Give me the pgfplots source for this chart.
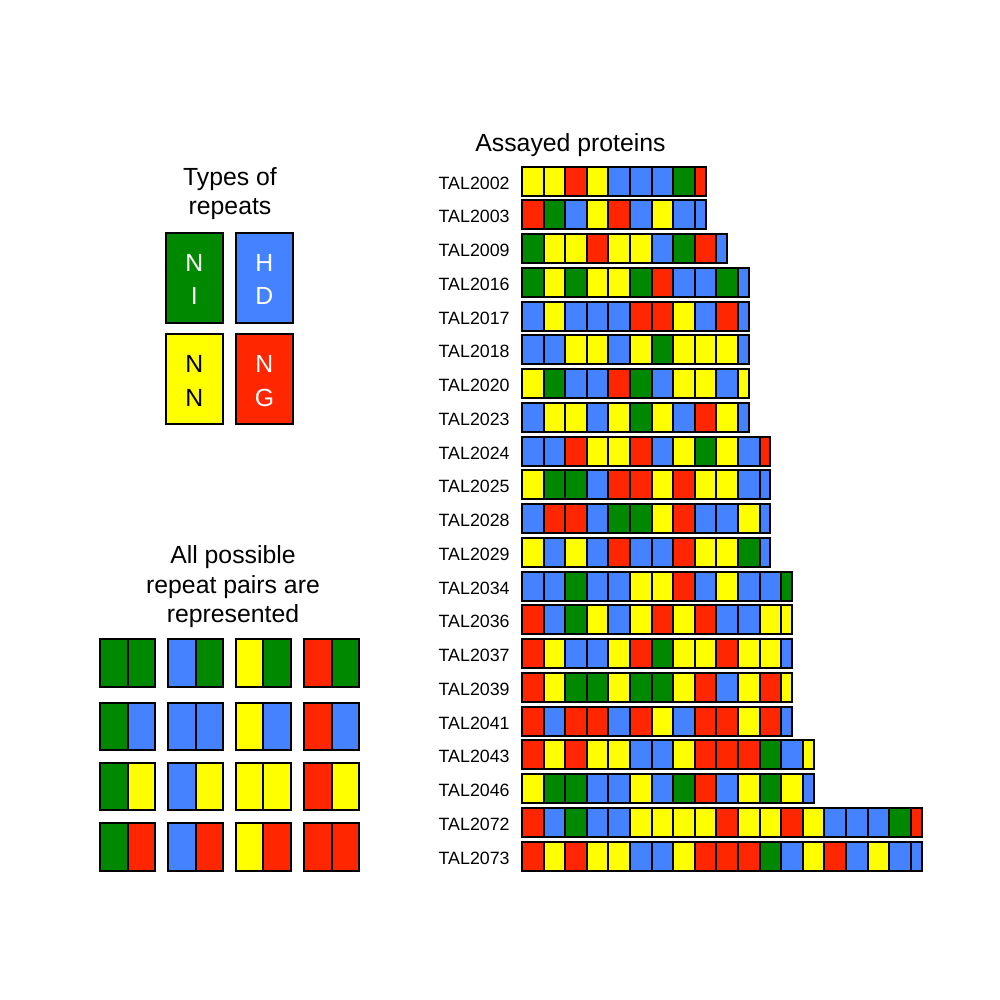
\documentclass[border=0pt]{standalone}
\usepackage{pgfplots}
\pgfplotsset{compat=1.18}
\usepackage{pgfplotstable}
\usepackage{fontspec}
\setmainfont{Liberation Sans}
\definecolor{cG}{RGB}{0,136,0}
\definecolor{cB}{RGB}{68,130,255}
\definecolor{cY}{RGB}{255,255,0}
\definecolor{cR}{RGB}{255,38,0}
% one repeat = 21.6 px = 10.8 pt wide, 29 px = 14.5 pt high
\pgfdeclareplotmark{tal}{\pgfpathrectangle{\pgfpoint{-5.4pt*\bw}{-7.25pt}}{\pgfpoint{10.8pt*\bw}{14.5pt}}\pgfusepathqfillstroke}
% legend boxes: width and height given in px (1 px = 0.5 pt)
\pgfdeclareplotmark{box}{\pgfpathrectangle{\pgfpoint{-0.25pt*\bw}{-0.25pt*\bh}}{\pgfpoint{0.5pt*\bw}{0.5pt*\bh}}\pgfusepathqfillstroke}
\pgfplotsset{
  blocks/.style={scatter, only marks, point meta=explicit symbolic,
    scatter/classes={
      0={fill=cG,draw=black,line width=1pt},
      1={fill=cB,draw=black,line width=1pt},
      2={fill=cY,draw=black,line width=1pt},
      3={fill=cR,draw=black,line width=1pt}}},
  grid/.style={blocks, mark=tal, visualization depends on={\thisrow{w}\as\bw}},
  boxes/.style={blocks, mark=box, visualization depends on={\thisrow{w}\as\bw},
    visualization depends on={\thisrow{h}\as\bh}},
}
\newcommand\TX{522+21.6*\coordindex+10.8*\thisrow{w}}
% codes: 0 = NI (green), 1 = HD (blue), 2 = NN (yellow), 3 = NG (red)
\pgfplotstableread{
x y w h c
194.4 277.7 56.5 90 0
264.4 277.7 56.5 90 1
194.4 379 56.5 90 2
264.4 379 56.5 90 3
}\types
\pgfplotstableread{
x y w h c
113.75 663 27.5 47.3 0
141.25 663 27.5 47.3 0
182.05 663 27.5 47.3 1
209.55 663 27.5 47.3 0
249.45 663 27.5 47.3 2
276.95 663 27.5 47.3 0
318.05 663 27.5 47.3 3
345.55 663 27.5 47.3 0
113.75 726.3 27.5 47.3 0
141.25 726.3 27.5 47.3 1
182.05 726.3 27.5 47.3 1
209.55 726.3 27.5 47.3 1
249.45 726.3 27.5 47.3 2
276.95 726.3 27.5 47.3 1
318.05 726.3 27.5 47.3 3
345.55 726.3 27.5 47.3 1
113.75 786.3 27.5 47.3 0
141.25 786.3 27.5 47.3 2
182.05 786.3 27.5 47.3 1
209.55 786.3 27.5 47.3 2
249.45 786.3 27.5 47.3 2
276.95 786.3 27.5 47.3 2
318.05 786.3 27.5 47.3 3
345.55 786.3 27.5 47.3 2
113.75 847 27.5 47.3 0
141.25 847 27.5 47.3 3
182.05 847 27.5 47.3 1
209.55 847 27.5 47.3 3
249.45 847 27.5 47.3 2
276.95 847 27.5 47.3 3
318.05 847 27.5 47.3 3
345.55 847 27.5 47.3 3
}\pairs
\newcommand\TitFont{\fontsize{12.4}{14.8}\selectfont}
\newcommand\LabFont{\fontsize{8.9}{10.6}\selectfont}
\begin{document}
\begin{tikzpicture}
\begin{axis}[x=0.5pt, y=0.5pt, xmin=0, xmax=1000, ymin=0, ymax=1000, y dir=reverse,
  hide axis, clip=false, anchor=origin]
\addplot[draw=none, mark=none] coordinates {(0,0) (1000,1000)};
% assayed proteins
\addplot[grid] table[x expr=\TX, y expr=181, meta=c, row sep=\\]{c w\\2 1\\2 1\\3 1\\2 1\\1 1\\1 1\\1 1\\0 1\\3 0.5\\};
\addplot[grid] table[x expr=\TX, y expr=214.75, meta=c, row sep=\\]{c w\\3 1\\0 1\\1 1\\2 1\\3 1\\1 1\\2 1\\1 1\\1 0.5\\};
\addplot[grid] table[x expr=\TX, y expr=248.5, meta=c, row sep=\\]{c w\\0 1\\2 1\\2 1\\3 1\\2 1\\2 1\\1 1\\0 1\\3 1\\1 0.5\\};
\addplot[grid] table[x expr=\TX, y expr=282.25, meta=c, row sep=\\]{c w\\0 1\\2 1\\0 1\\2 1\\2 1\\0 1\\3 1\\1 1\\1 1\\0 1\\1 0.5\\};
\addplot[grid] table[x expr=\TX, y expr=316, meta=c, row sep=\\]{c w\\1 1\\2 1\\1 1\\1 1\\1 1\\3 1\\3 1\\2 1\\1 1\\3 1\\1 0.5\\};
\addplot[grid] table[x expr=\TX, y expr=349.75, meta=c, row sep=\\]{c w\\1 1\\1 1\\2 1\\2 1\\1 1\\2 1\\0 1\\2 1\\2 1\\2 1\\1 0.5\\};
\addplot[grid] table[x expr=\TX, y expr=383.5, meta=c, row sep=\\]{c w\\2 1\\0 1\\1 1\\1 1\\3 1\\0 1\\1 1\\2 1\\2 1\\1 1\\2 0.5\\};
\addplot[grid] table[x expr=\TX, y expr=417.25, meta=c, row sep=\\]{c w\\1 1\\2 1\\2 1\\1 1\\2 1\\0 1\\2 1\\1 1\\3 1\\2 1\\1 0.5\\};
\addplot[grid] table[x expr=\TX, y expr=451, meta=c, row sep=\\]{c w\\1 1\\1 1\\3 1\\2 1\\2 1\\3 1\\1 1\\2 1\\0 1\\2 1\\1 1\\3 0.5\\};
\addplot[grid] table[x expr=\TX, y expr=484.75, meta=c, row sep=\\]{c w\\2 1\\0 1\\0 1\\1 1\\3 1\\3 1\\2 1\\3 1\\2 1\\2 1\\1 1\\1 0.5\\};
\addplot[grid] table[x expr=\TX, y expr=518.5, meta=c, row sep=\\]{c w\\1 1\\3 1\\3 1\\1 1\\0 1\\0 1\\2 1\\3 1\\1 1\\1 1\\2 1\\1 0.5\\};
\addplot[grid] table[x expr=\TX, y expr=552.25, meta=c, row sep=\\]{c w\\2 1\\1 1\\2 1\\1 1\\3 1\\1 1\\1 1\\3 1\\2 1\\2 1\\0 1\\1 0.5\\};
\addplot[grid] table[x expr=\TX, y expr=586, meta=c, row sep=\\]{c w\\1 1\\1 1\\0 1\\1 1\\1 1\\2 1\\2 1\\3 1\\1 1\\2 1\\1 1\\1 1\\0 0.5\\};
\addplot[grid] table[x expr=\TX, y expr=619.75, meta=c, row sep=\\]{c w\\3 1\\1 1\\0 1\\2 1\\1 1\\2 1\\3 1\\2 1\\3 1\\1 1\\1 1\\2 1\\2 0.5\\};
\addplot[grid] table[x expr=\TX, y expr=653.5, meta=c, row sep=\\]{c w\\3 1\\2 1\\1 1\\1 1\\2 1\\3 1\\0 1\\2 1\\2 1\\3 1\\2 1\\2 1\\1 0.5\\};
\addplot[grid] table[x expr=\TX, y expr=687.25, meta=c, row sep=\\]{c w\\3 1\\2 1\\0 1\\0 1\\2 1\\0 1\\0 1\\2 1\\3 1\\1 1\\2 1\\3 1\\2 0.5\\};
\addplot[grid] table[x expr=\TX, y expr=721, meta=c, row sep=\\]{c w\\3 1\\1 1\\3 1\\3 1\\1 1\\3 1\\2 1\\1 1\\3 1\\3 1\\2 1\\3 1\\1 0.5\\};
\addplot[grid] table[x expr=\TX, y expr=754.75, meta=c, row sep=\\]{c w\\3 1\\2 1\\3 1\\2 1\\2 1\\1 1\\1 1\\2 1\\3 1\\3 1\\3 1\\0 1\\1 1\\2 0.5\\};
\addplot[grid] table[x expr=\TX, y expr=788.5, meta=c, row sep=\\]{c w\\2 1\\0 1\\0 1\\1 1\\1 1\\2 1\\1 1\\0 1\\3 1\\1 1\\2 1\\0 1\\2 1\\1 0.5\\};
\addplot[grid] table[x expr=\TX, y expr=822.25, meta=c, row sep=\\]{c w\\3 1\\1 1\\0 1\\1 1\\1 1\\2 1\\2 1\\2 1\\2 1\\3 1\\2 1\\2 1\\3 1\\2 1\\1 1\\1 1\\1 1\\0 1\\3 0.5\\};
\addplot[grid] table[x expr=\TX, y expr=856, meta=c, row sep=\\]{c w\\3 1\\2 1\\3 1\\2 1\\2 1\\1 1\\1 1\\2 1\\3 1\\3 1\\3 1\\0 1\\1 1\\2 1\\3 1\\1 1\\2 1\\1 1\\1 0.5\\};
% legends
\addplot[boxes] table[x=x, y=y, meta=c] {\types};
\addplot[boxes] table[x=x, y=y, meta=c] {\pairs};
% anchors for the letters drawn on top of the boxes
\coordinate (a1) at (axis cs:194.4,271);
\coordinate (a2) at (axis cs:194.4,304.7);
\coordinate (b1) at (axis cs:264.4,271);
\coordinate (b2) at (axis cs:264.4,304.7);
\coordinate (c1) at (axis cs:194.4,372.3);
\coordinate (c2) at (axis cs:194.4,406);
\coordinate (d1) at (axis cs:264.4,372.3);
\coordinate (d2) at (axis cs:264.4,406);
% texts
\node[anchor=base, font=\TitFont] at (axis cs:570.5,151) {Assayed proteins};
\node[anchor=base, font=\TitFont] at (axis cs:230,185) {Types of};
\node[anchor=base, font=\TitFont] at (axis cs:230,214.5) {repeats};
\node[anchor=base, font=\TitFont] at (axis cs:233,563.3) {All possible};
\node[anchor=base, font=\TitFont] at (axis cs:233,593.3) {repeat pairs are};
\node[anchor=base, font=\TitFont] at (axis cs:233,622.7) {represented};
\node[anchor=east, inner sep=0pt, font=\LabFont] at (axis cs:510,183) {TAL2002};
\node[anchor=east, inner sep=0pt, font=\LabFont] at (axis cs:510,216.75) {TAL2003};
\node[anchor=east, inner sep=0pt, font=\LabFont] at (axis cs:510,250.5) {TAL2009};
\node[anchor=east, inner sep=0pt, font=\LabFont] at (axis cs:510,284.25) {TAL2016};
\node[anchor=east, inner sep=0pt, font=\LabFont] at (axis cs:510,318) {TAL2017};
\node[anchor=east, inner sep=0pt, font=\LabFont] at (axis cs:510,351.75) {TAL2018};
\node[anchor=east, inner sep=0pt, font=\LabFont] at (axis cs:510,385.5) {TAL2020};
\node[anchor=east, inner sep=0pt, font=\LabFont] at (axis cs:510,419.25) {TAL2023};
\node[anchor=east, inner sep=0pt, font=\LabFont] at (axis cs:510,453) {TAL2024};
\node[anchor=east, inner sep=0pt, font=\LabFont] at (axis cs:510,486.75) {TAL2025};
\node[anchor=east, inner sep=0pt, font=\LabFont] at (axis cs:510,520.5) {TAL2028};
\node[anchor=east, inner sep=0pt, font=\LabFont] at (axis cs:510,554.25) {TAL2029};
\node[anchor=east, inner sep=0pt, font=\LabFont] at (axis cs:510,588) {TAL2034};
\node[anchor=east, inner sep=0pt, font=\LabFont] at (axis cs:510,621.75) {TAL2036};
\node[anchor=east, inner sep=0pt, font=\LabFont] at (axis cs:510,655.5) {TAL2037};
\node[anchor=east, inner sep=0pt, font=\LabFont] at (axis cs:510,689.25) {TAL2039};
\node[anchor=east, inner sep=0pt, font=\LabFont] at (axis cs:510,723) {TAL2041};
\node[anchor=east, inner sep=0pt, font=\LabFont] at (axis cs:510,756.75) {TAL2043};
\node[anchor=east, inner sep=0pt, font=\LabFont] at (axis cs:510,790.5) {TAL2046};
\node[anchor=east, inner sep=0pt, font=\LabFont] at (axis cs:510,824.25) {TAL2072};
\node[anchor=east, inner sep=0pt, font=\LabFont] at (axis cs:510,858) {TAL2073};
\end{axis}
\node[anchor=base, font=\TitFont, text=white] at (a1) {N};
\node[anchor=base, font=\TitFont, text=white] at (a2) {I};
\node[anchor=base, font=\TitFont, text=white] at (b1) {H};
\node[anchor=base, font=\TitFont, text=white] at (b2) {D};
\node[anchor=base, font=\TitFont, text=black] at (c1) {N};
\node[anchor=base, font=\TitFont, text=black] at (c2) {N};
\node[anchor=base, font=\TitFont, text=white] at (d1) {N};
\node[anchor=base, font=\TitFont, text=white] at (d2) {G};
\end{tikzpicture}
\end{document}
